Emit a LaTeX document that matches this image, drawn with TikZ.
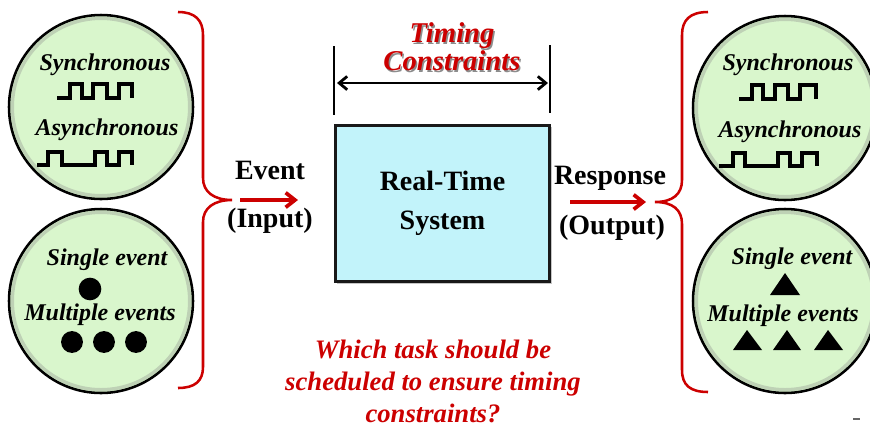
\documentclass[tikz,border=0pt]{standalone}
\usepackage{fontspec}
\setmainfont{Liberation Serif}
\usetikzlibrary{arrows.meta,shadows}
\definecolor{bubblegreen}{HTML}{D9F6CC}
\definecolor{boxcyan}{HTML}{C2F3FA}
\definecolor{alertred}{HTML}{CC0000}
\begin{document}
\begin{tikzpicture}[x=0.75pt,y=-0.75pt,
  bubble/.style={circle, draw=black, line width=1.9pt, fill=bubblegreen,
    minimum size=138pt, inner sep=0pt},
  rim/.style={draw=black!45, line width=2.5pt, opacity=0.35},
  lbl/.style={font=\fontsize{18}{20}\selectfont\bfseries\itshape,
    inner sep=0pt, text height=12.2pt, text depth=0pt},
  big/.style={font=\fontsize{21}{25}\selectfont\bfseries,
    inner sep=0pt, text height=14.2pt, text depth=0pt},
  wave/.style={draw=black, line width=2.5pt, line join=miter},
  brace/.style={draw=alertred, line width=1.9pt},
  redarrow/.style={draw=alertred, line width=2.8pt,
    -{Straight Barb[length=7pt,width=11pt]}},
  dimline/.style={draw=black, line width=2.1pt},
  dimarrow/.style={draw=black, line width=2.1pt,
    {Straight Barb[length=6pt,width=10pt]}-{Straight Barb[length=6pt,width=10pt]}},
  rtsbox/.style={draw=black!90, line width=2.2pt, fill=boxcyan,
    minimum width=161pt, minimum height=117.5pt, align=center,
    font=\fontsize{21}{29}\selectfont\bfseries,
    drop shadow={shadow xshift=1.5pt, shadow yshift=-1.5pt, opacity=0.45}},
  redtitle/.style={font=\fontsize{21.5}{21}\selectfont\bfseries\itshape,
    align=center, inner sep=0pt, text=alertred},
  question/.style={font=\fontsize{20}{24}\selectfont\bfseries\itshape,
    align=center, inner sep=0pt, text=alertred}
]
\useasboundingbox (0,0) rectangle (870,430);

% ---- input side bubbles ----
\node[bubble] (inwave) at (101,107) {};
\draw[rim] (101,107) circle[radius=66.5pt];
\node[bubble] (inevt) at (101,301) {};
\draw[rim] (101,301) circle[radius=66.5pt];

\node[lbl] (inSync) at (105,62) {Synchronous};
\draw[wave] (57,98) -- (70,98) -- (70,84) -- (82,84) -- (82,98) -- (93,98)
  -- (93,84) -- (107,84) -- (107,98) -- (119,98) -- (119,84) -- (132,84) -- (132,98);
\node[lbl] (inAsync) at (107,127) {Asynchronous};
\draw[wave] (37,165) -- (48,165) -- (48,152) -- (62,152) -- (62,165) -- (95,165)
  -- (95,152) -- (107,152) -- (107,165) -- (119,165) -- (119,152) -- (132,152) -- (132,165);

\node[lbl] (inSingle) at (107,257) {Single event};
\fill (90,289) circle[radius=8.5pt];
\node[lbl] (inMulti) at (100,312) {Multiple events};
\fill (72,342) circle[radius=8.2pt];
\fill (104,342) circle[radius=8.2pt];
\fill (136,342) circle[radius=8.2pt];

% ---- output side bubbles ----
\node[bubble] (outwave) at (785,108) {};
\draw[rim] (785,108) circle[radius=66.5pt];
\node[bubble] (outevt) at (785,301) {};
\draw[rim] (785,301) circle[radius=66.5pt];

\node[lbl] (outSync) at (788,62) {Synchronous};
\draw[wave] (739,99) -- (752,99) -- (752,85) -- (763,85) -- (763,99) -- (775,99)
  -- (775,85) -- (788,85) -- (788,99) -- (800,99) -- (800,85) -- (816,85) -- (816,99);
\node[lbl] (outAsync) at (790,129) {Asynchronous};
\draw[wave] (719,166) -- (733,166) -- (733,153) -- (745,153) -- (745,166) -- (778,166)
  -- (778,153) -- (790,153) -- (790,166) -- (802,166) -- (802,153) -- (817,153) -- (817,166);

\node[lbl] (outSingle) at (792,256) {Single event};
\fill (770,295) -- (785,273) -- (800,295) -- cycle;
\node[lbl] (outMulti) at (783,313) {Multiple events};
\fill (733,350) -- (747,330) -- (762,350) -- cycle;
\fill (773,350) -- (787,330) -- (801,350) -- cycle;
\fill (814,350) -- (828,330) -- (843,350) -- cycle;

% ---- braces ----
\draw[brace] (178,12) .. controls (195,12) and (203,20) .. (203,35) -- (203,178)
  .. controls (203,192) and (214,200) .. (232,200)
  .. controls (214,200) and (203,208) .. (203,222) -- (203,367)
  .. controls (203,381) and (195,388) .. (178,388);
\draw[brace] (708,12) .. controls (690,12) and (682,20) .. (682,35) -- (682,180)
  .. controls (682,194) and (673,202) .. (655,202)
  .. controls (673,202) and (682,210) .. (682,224) -- (682,370)
  .. controls (682,385) and (690,392) .. (708,392);

% ---- real-time system ----
\node[rtsbox] (rts) at (442.5,203.5) {Real-Time\\System};

\coordinate (dimLtop) at (334,46);
\coordinate (dimLbot) at (334,115);
\coordinate (dimRtop) at (550,45);
\coordinate (dimRbot) at (550,113);
\coordinate (dimA) at (337,83);
\coordinate (dimB) at (548,83);
\draw[dimline] (dimLtop) -- (dimLbot);
\draw[dimline] (dimRtop) -- (dimRbot);
\draw[dimarrow] (dimA) -- (dimB);

\node[redtitle, text=black!45] (timingshadow) at (453.5,48.5) {Timing\\Constraints};
\node[redtitle] (timing) at (452,47) {Timing\\Constraints};

% ---- event / response ----
\node[big] (event) at (270,170) {Event};
\node[big] (input) at (270,218) {(Input)};
\coordinate (evtail) at (240,200);
\coordinate (evhead) at (298,200);
\draw[redarrow] (evtail) -- (evhead);

\node[big] (response) at (610,175) {Response};
\node[big] (output) at (612,225) {(Output)};
\coordinate (rsptail) at (570,202);
\coordinate (rsphead) at (646,202);
\draw[redarrow] (rsptail) -- (rsphead);

% ---- question ----
\node[question] (ask) at (433,381) {Which task should be\\scheduled to ensure timing\\constraints?};

\draw[black!60, line width=0.8pt] (853,419) -- (860,419);
\end{tikzpicture}
\end{document}
